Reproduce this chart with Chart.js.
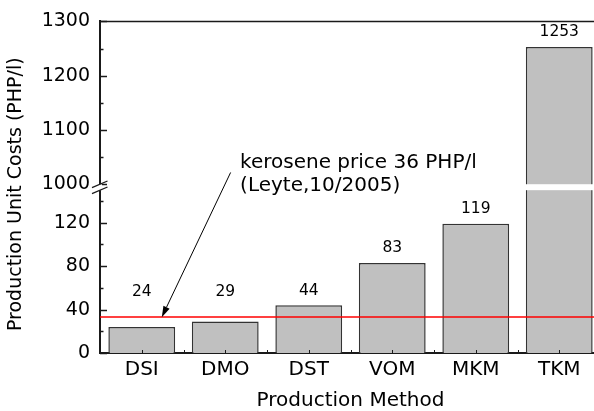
<!DOCTYPE html>
<html><head><meta charset="utf-8">
<script src="https://cdn.jsdelivr.net/npm/chart.js@4/dist/chart.umd.min.js"></script>
<style>
html,body{margin:0;padding:0;background:#fff;overflow:hidden;}
#wrap{width:610px;height:411px;}
</style></head><body>
<div id="wrap"><canvas id="c" width="610" height="411"></canvas></div>
<script>
const categories = ['DSI', 'DMO', 'DST', 'VOM', 'MKM', 'TKM'];
const costs = [24, 29, 44, 83, 119, 1253];
const lowerTicks = [0, 40, 80, 120];
const upperTicks = [1000, 1100, 1200, 1300];
const lowerMinor = [20, 60, 100, 140];
const upperMinor = [1050, 1150, 1250];
const keroseneLevel = 33;
const annotationLines = ['kerosene price 36 PHP/l', '(Leyte,10/2005)'];

// broken-axis mapping (real value -> axis units)
const LOW_MAX = 150, HIGH_MIN = 1000, HIGH_MAX = 1300, GAP = 5.5, HIGH_FACTOR = 0.5;
function toAxis(v) { return v <= LOW_MAX ? v : LOW_MAX + GAP + (v - HIGH_MIN) * HIGH_FACTOR; }
const AXIS_MAX = toAxis(HIGH_MAX);
const tickReal = lowerTicks.concat(upperTicks);
const LABEL_FLOOR = 43;
const FONT = 'DejaVu Sans';
const AXIS_COLOR = '#1a1a1a';

Chart.defaults.color = '#000';
Chart.defaults.font.family = FONT;

const extras = {
  id: 'extras',
  beforeDraw(chart) {
    const s = chart.scales.y;
    if (!s._titleShifted) {
      const orig = s.drawTitle.bind(s);
      s.drawTitle = function () { const c = this.ctx; c.save(); c.translate(0, 7); orig(); c.restore(); };
      s._titleShifted = true;
    }
  },
  afterDatasetsDraw(chart) {
    const ctx = chart.ctx, area = chart.chartArea;
    const y = chart.scales.y;
    ctx.save();
    // kerosene price line
    const ky = Math.round(y.getPixelForValue(keroseneLevel));
    ctx.strokeStyle = '#ff0000'; ctx.lineWidth = 1.6;
    ctx.beginPath(); ctx.moveTo(area.left, ky); ctx.lineTo(area.right, ky); ctx.stroke();
    // break band through tall bars
    const yb1 = y.getPixelForValue(LOW_MAX), yb2 = y.getPixelForValue(LOW_MAX + GAP);
    const meta = chart.getDatasetMeta(0);
    ctx.fillStyle = '#fff';
    meta.data.forEach((bar, i) => {
      if (costs[i] > LOW_MAX) {
        ctx.fillRect(bar.x - bar.width / 2 - 2, yb2, bar.width + 4, yb1 - yb2);
      }
    });
    // top frame
    ctx.strokeStyle = AXIS_COLOR; ctx.lineWidth = 1.5;
    ctx.beginPath(); ctx.moveTo(area.left, area.top); ctx.lineTo(area.right, area.top); ctx.stroke();
    ctx.restore();
  },
  afterDraw(chart) {
    const ctx = chart.ctx, area = chart.chartArea;
    const x = chart.scales.x, y = chart.scales.y;
    ctx.save();
    // inward y ticks
    ctx.strokeStyle = AXIS_COLOR; ctx.lineWidth = 1.5;
    tickReal.forEach(v => {
      const py = Math.round(y.getPixelForValue(toAxis(v))) + 0.5;
      ctx.beginPath(); ctx.moveTo(area.left, py); ctx.lineTo(area.left + 7, py); ctx.stroke();
    });
    lowerMinor.concat(upperMinor).forEach(v => {
      const py = Math.round(y.getPixelForValue(toAxis(v))) + 0.5;
      ctx.beginPath(); ctx.moveTo(area.left, py); ctx.lineTo(area.left + 3.5, py); ctx.stroke();
    });
    // inward x ticks (centers and boundaries)
    ctx.lineWidth = 1;
    for (let i = 0; i < categories.length; i++) {
      [i, i + 0.5].forEach(v => {
        const px = Math.round(x.getPixelForValue(v)) + 0.5;
        ctx.beginPath(); ctx.moveTo(px, area.bottom); ctx.lineTo(px, area.bottom - 3); ctx.stroke();
      });
    }
    // axis break
    const yb1 = y.getPixelForValue(LOW_MAX), yb2 = y.getPixelForValue(LOW_MAX + GAP);
    ctx.fillStyle = '#fff';
    ctx.fillRect(area.left - 2, yb2, 4, yb1 - yb2);
    ctx.strokeStyle = AXIS_COLOR; ctx.lineWidth = 1.3;
    [yb2, yb1].forEach(py => {
      ctx.beginPath(); ctx.moveTo(area.left - 8, py + 3.4); ctx.lineTo(area.left + 7.5, py - 3.2); ctx.stroke();
    });
    // value labels
    ctx.fillStyle = '#000';
    ctx.font = '15.5px "' + FONT + '"';
    ctx.textAlign = 'center'; ctx.textBaseline = 'middle';
    chart.getDatasetMeta(0).data.forEach((bar, i) => {
      const py = y.getPixelForValue(Math.max(toAxis(costs[i]), LABEL_FLOOR)) - 14.5;
      ctx.fillText(String(costs[i]), bar.x, py);
    });
    // annotation text
    const tx = x.getPixelForValue(1.178), ty = y.getPixelForValue(toAxis(1029));
    ctx.font = '20px "' + FONT + '"';
    ctx.textAlign = 'left'; ctx.textBaseline = 'alphabetic';
    annotationLines.forEach((t, k) => ctx.fillText(t, tx, ty + k * 23));
    // arrow
    const sx = tx - 9.5, sy = ty + 4;
    const ex = x.getPixelForValue(0.24), ey = y.getPixelForValue(keroseneLevel);
    const ang = Math.atan2(ey - sy, ex - sx);
    const hl = 11, hw = 3.4;
    const bx = ex - hl * Math.cos(ang), by = ey - hl * Math.sin(ang);
    ctx.strokeStyle = '#000'; ctx.lineWidth = 1;
    ctx.beginPath(); ctx.moveTo(sx, sy); ctx.lineTo(bx, by); ctx.stroke();
    ctx.fillStyle = '#000';
    ctx.beginPath();
    ctx.moveTo(ex, ey);
    ctx.lineTo(bx + hw * Math.sin(ang), by - hw * Math.cos(ang));
    ctx.lineTo(bx - hw * Math.sin(ang), by + hw * Math.cos(ang));
    ctx.closePath(); ctx.fill();
    ctx.restore();
  }
};

new Chart(document.getElementById('c'), {
  type: 'bar',
  data: {
    labels: categories,
    datasets: [{
      data: costs.map(toAxis),
      backgroundColor: '#c0c0c0',
      borderColor: '#333333',
      borderWidth: 1.5,
      barPercentage: 0.8,
      categoryPercentage: 1.0
    }]
  },
  options: {
    responsive: false,
    animation: false,
    devicePixelRatio: 1,
    layout: { padding: { top: 21, right: 9, left: 0, bottom: 0 } },
    plugins: { legend: { display: false }, tooltip: { enabled: false } },
    scales: {
      x: {
        grid: { display: false, drawTicks: false },
        border: { display: true, color: AXIS_COLOR, width: 2 },
        ticks: { padding: 5, font: { size: 20 }, color: '#000' },
        title: { display: true, text: 'Production Method', color: '#000', font: { size: 20, lineHeight: 1 }, padding: { top: 0, bottom: 0 } },
        afterFit: s => { s.height = 58; }
      },
      y: {
        min: 0, max: AXIS_MAX,
        grid: { display: false, drawTicks: false },
        border: { display: true, color: AXIS_COLOR, width: 2 },
        afterBuildTicks: s => { s.ticks = tickReal.map(v => ({ value: toAxis(v) })); },
        ticks: { padding: 10, font: { size: 19 }, color: '#000', autoSkip: false, callback: (v, i) => String(tickReal[i]) },
        title: { display: true, text: 'Production Unit Costs (PHP/l)', color: '#000', font: { size: 19, lineHeight: 1.2 }, padding: { top: 5, bottom: 0 } },
        afterFit: s => { s.width = 100; }
      }
    }
  },
  plugins: [extras]
});
</script>
</body></html>
